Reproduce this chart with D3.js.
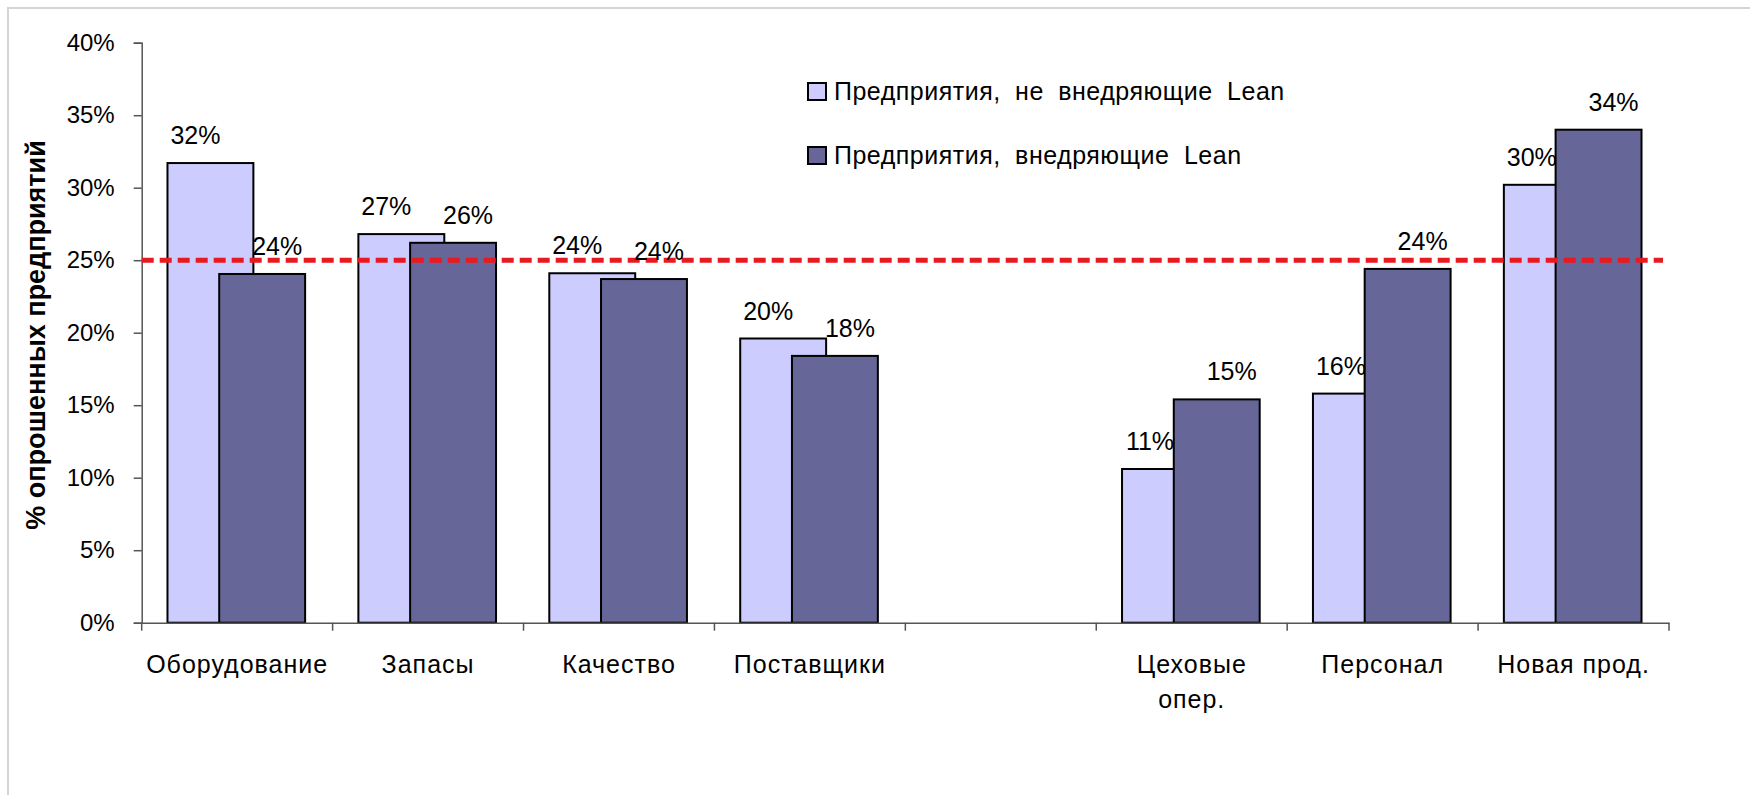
<!DOCTYPE html>
<html>
<head>
<meta charset="utf-8">
<script src="https://cdn.jsdelivr.net/npm/d3@7"></script>
<style>
  html, body { margin: 0; padding: 0; background: #fff; }
  svg { display: block; font-family: "Liberation Sans", Arial, sans-serif; }
</style>
</head>
<body>
<svg id="chart" width="1750" height="795"></svg>
<script>
// ---- data ----
const categories = ["Оборудование", "Запасы", "Качество", "Поставщики", "", "Цеховые\nопер.", "Персонал", "Новая прод."];
const seriesNames = ["Предприятия, не внедряющие Lean", "Предприятия, внедряющие Lean"];
const notLean = [31.7, 26.8, 24.1, 19.6, null, 10.6, 15.8, 30.2];
const withLean = [24.05, 26.2, 23.7, 18.4, null, 15.4, 24.4, 34.0];
const yTicks = [0, 5, 10, 15, 20, 25, 30, 35, 40];
const referenceLevel = 25;
const yTitle = "% опрошенных предприятий";

// ---- layout ----
const svg = d3.select("#chart");
const W = 1750, H = 795;
const plot = { left: 141.7, right: 1669, top: 42.7, bottom: 622.7 };
const colors = ["#ccccff", "#666699"];

svg.append("rect").attr("x", 0).attr("y", 0).attr("width", W).attr("height", H).attr("fill", "#fff");
svg.append("rect").attr("x", 8).attr("y", 8).attr("width", W + 20).attr("height", H + 20)
  .attr("fill", "none").attr("stroke", "#d4d4d4").attr("stroke-width", 2);

const x = d3.scaleBand().domain(d3.range(categories.length)).range([plot.left, plot.right]).padding(0);
const y = d3.scaleLinear().domain([0, 40]).range([plot.bottom, plot.top]);
const bw = x.bandwidth();
const barW = bw * 0.45;
const offsets = [bw * 0.135, bw * 0.406];
const labelShift = [-15, 15];

// y axis
const yAxis = svg.append("g").attr("transform", `translate(${plot.left},0)`)
  .call(d3.axisLeft(y).tickValues(yTicks).tickSize(8).tickPadding(19).tickFormat(d => d + "%"));
yAxis.select(".domain").attr("stroke", "#555").attr("stroke-width", 1.5);
yAxis.selectAll(".tick line").attr("stroke", "#555").attr("stroke-width", 1.5);
yAxis.selectAll(".tick text").attr("font-size", 24).attr("fill", "#000")
  .attr("font-family", "'Liberation Sans', Arial, sans-serif");

// bars
const seriesData = [notLean, withLean];
seriesData.forEach((vals, s) => {
  const g = svg.append("g");
  const data = vals.map((v, i) => ({ i, v })).filter(d => d.v != null);
  g.selectAll("rect").data(data).join("rect")
    .attr("x", d => x(d.i) + offsets[s])
    .attr("y", d => y(d.v))
    .attr("width", barW)
    .attr("height", d => y(0) - y(d.v))
    .attr("fill", colors[s])
    .attr("stroke", "#000")
    .attr("stroke-width", 2);
});

// x axis
const xAxis = svg.append("g").attr("transform", `translate(0,${plot.bottom})`)
  .call(d3.axisBottom(x).tickSize(0).tickPadding(0).tickFormat(""));
xAxis.select(".domain").attr("stroke", "#555").attr("stroke-width", 1.5);
const bounds = x.domain().map(d => x(d)).concat([x.range()[1]]);
xAxis.selectAll(".bound").data(bounds).join("line").attr("class", "bound")
  .attr("x1", d => d).attr("x2", d => d).attr("y1", 0).attr("y2", 8)
  .attr("stroke", "#555").attr("stroke-width", 1.5);
xAxis.selectAll(".tick").each(function(d) {
  const t = d3.select(this);
  t.select("text").remove();
  const lines = categories[d].split("\n");
  const txt = t.append("text").attr("fill", "#000").attr("font-size", 25)
    .attr("letter-spacing", 1).attr("text-anchor", "middle")
    .attr("font-family", "'Liberation Sans', Arial, sans-serif");
  lines.forEach((ln, k) => {
    txt.append("tspan").attr("x", 0).attr("y", 50 + k * 35).text(ln);
  });
});

// reference line
svg.append("line")
  .attr("x1", plot.left).attr("x2", plot.right - 6)
  .attr("y1", y(referenceLevel)).attr("y2", y(referenceLevel))
  .attr("stroke", "#e8191f").attr("stroke-width", 5).attr("stroke-dasharray", "12,6");

// data labels
const fmt = d3.format(".0f");
seriesData.forEach((vals, s) => {
  const data = vals.map((v, i) => ({ i, v })).filter(d => d.v != null);
  svg.append("g").selectAll("text").data(data).join("text")
    .attr("x", d => x(d.i) + offsets[s] + barW / 2 + labelShift[s])
    .attr("y", d => y(d.v) - 19)
    .attr("text-anchor", "middle")
    .attr("font-size", 25)
    .attr("fill", "#000")
    .text(d => fmt(d.v) + "%");
});

// y title
svg.append("text")
  .attr("transform", `translate(45,335) rotate(-90)`)
  .attr("text-anchor", "middle")
  .attr("font-size", 27)
  .attr("font-weight", "bold")
  .attr("fill", "#000")
  .text(yTitle);

// legend
const legend = svg.append("g");
seriesNames.forEach((name, s) => {
  const row = legend.append("g").attr("transform", `translate(808,${83 + s * 64})`);
  row.append("rect").attr("x", 0).attr("y", 0).attr("width", 18).attr("height", 17)
    .attr("fill", colors[s]).attr("stroke", "#000").attr("stroke-width", 2);
  row.append("text").attr("x", 26).attr("y", 17)
    .attr("font-size", 25).attr("letter-spacing", 0.5).attr("word-spacing", 7)
    .attr("fill", "#000").text(name);
});
</script>
</body>
</html>
